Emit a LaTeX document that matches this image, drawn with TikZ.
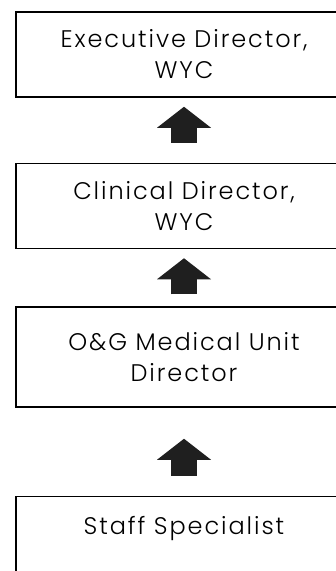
\documentclass[tikz,border=0pt]{standalone}
\usepackage{fontspec}
\setmainfont{Poppins Light}[LetterSpace=8]
\usetikzlibrary{positioning, arrows.meta}

\tikzset{
  box/.style={draw, line width=1.5pt, minimum width=336pt, minimum height=85pt,
    align=center, inner sep=0pt, font=\fontsize{24}{31}\selectfont},
  uparrow/.style={-{Triangle[width=54pt, length=21pt, line width=0pt]},
    line width=26pt, black!88},
}

\begin{document}
\begin{tikzpicture}[x=1pt, y=-1pt, node distance=60pt]
	\path[use as bounding box, clip] (0,0) rectangle (336,571);
	\node[box] (exec) at (184,54.5) {Executive Director,\\WYC};
	\node[box, below=65pt of exec] (clin) {Clinical Director,\\WYC};
	\node[box, below=57pt of clin, minimum height=100pt] (unit) {O\&G Medical Unit\\Director};
	\node[box, below=88pt of unit, minimum height=88pt] (spec) {Staff Specialist\\\mbox{}};
	\draw[uparrow, shorten <=20pt, shorten >=9pt] (clin) -- (exec);
	\draw[uparrow, shorten <=12pt, shorten >=9pt] (unit) -- (clin);
	\draw[uparrow, shorten <=20pt, shorten >=31pt] (spec) -- (unit);
\end{tikzpicture}
\end{document}
